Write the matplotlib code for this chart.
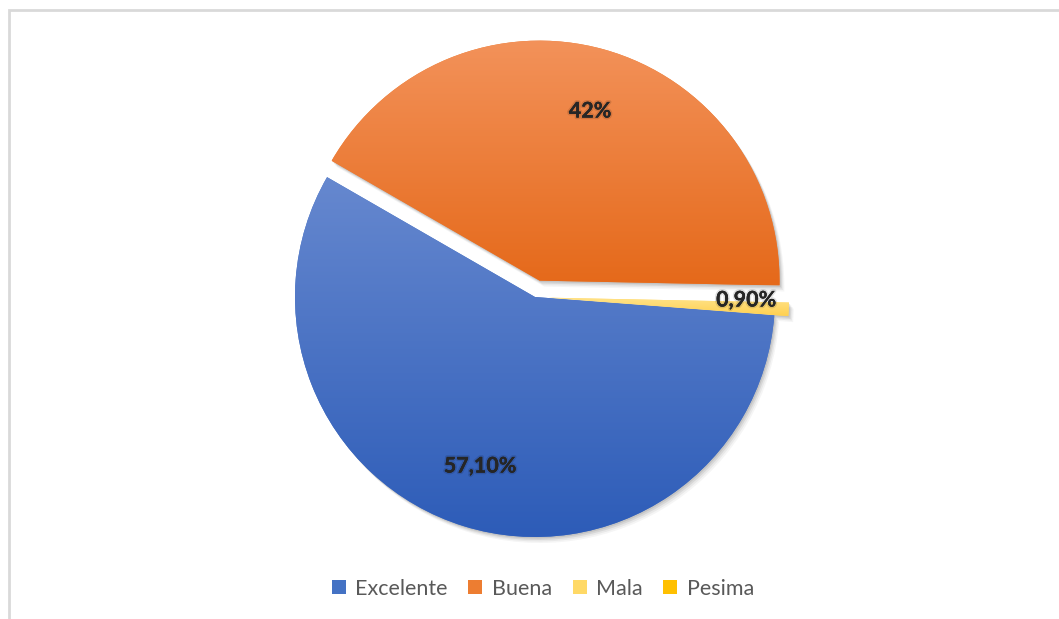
import numpy as np
import matplotlib.pyplot as plt
import matplotlib.patheffects as pe
from matplotlib.colors import LinearSegmentedColormap
from matplotlib.lines import Line2D
from matplotlib.patches import Rectangle, Wedge

categories = ['Excelente', 'Buena', 'Mala', 'Pesima']
values = [57.1, 42.0, 0.9, 0.0]
value_labels = ['57,10%', '42%', '0,90%', '']

# (top, bottom) colours of each slice's vertical gradient
grad_colors = [('#6688cf', '#2d5cb8'),
               ('#f3925a', '#e5691a'),
               ('#ffe38a', '#ffd050'),
               ('#ffd033', '#f5b800')]
legend_colors = ['#4472c4', '#ed7d31', '#ffd966', '#ffc000']

W, H = 1059, 619
fig = plt.figure(figsize=(W / 100, H / 100), dpi=100)
ax = fig.add_axes([0, 0, 1, 1])

cx, cy, R = 535, H - 297, 240
# pie offsets are in data units (pixels here)
explode = [0, 17, 14, 0]

wedges, _ = ax.pie(values, explode=explode, startangle=-4.4, counterclock=False,
                   center=(cx, cy), radius=R, colors=legend_colors,
                   wedgeprops=dict(linewidth=0))

# soft drop shadow under each slice
for w in wedges:
    if w.theta2 - w.theta1 <= 0:
        continue
    for off, a in [(6, 0.05), (4.5, 0.07), (3, 0.10), (1.5, 0.12)]:
        sh = Wedge((w.center[0] + off * 0.8, w.center[1] - off), w.r, w.theta1, w.theta2,
                   facecolor='#404040', alpha=a, linewidth=0, zorder=0.5)
        ax.add_patch(sh)

# vertical gradient fill clipped to each wedge
for w, (c_top, c_bot) in zip(wedges, grad_colors):
    if w.theta2 - w.theta1 <= 0:
        continue
    w.set_zorder(1)
    bb = w.get_path().get_extents(w.get_patch_transform())
    cmap = LinearSegmentedColormap.from_list('g', [c_bot, c_top])
    grad = np.linspace(0, 1, 256).reshape(-1, 1)
    im = ax.imshow(grad, cmap=cmap, origin='lower', aspect='auto',
                   extent=(bb.x0, bb.x1, bb.y0, bb.y1), zorder=2)
    im.set_clip_path(w)

label_pos = [(480, 466), (590, 111), (746, 300)]
for txt, (x, y) in zip(value_labels, label_pos):
    if not txt:
        continue
    ax.text(x, H - y, txt, ha='center', va='center', fontsize=15.5, fontweight='bold',
            family='Lato', color='#262626', zorder=5,
            path_effects=[pe.withStroke(linewidth=2.5, foreground=(0, 0, 0, 0.12)),
                          pe.Normal()])

# light chart-area border
ax.add_patch(Rectangle((8.5, -10), W + 20, H - 9.5 + 10, fill=False,
                       edgecolor='#d9d9d9', linewidth=2, zorder=0))

ax.set_xlim(0, W)
ax.set_ylim(0, H)
ax.set_aspect('auto')
ax.axis('off')

handles = [Line2D([], [], marker='s', linestyle='none', markersize=10,
                  markerfacecolor=c, markeredgewidth=0) for c in legend_colors]
leg = ax.legend(handles, categories, loc='center', bbox_to_anchor=(542 / W, 1 - 589 / H),
                ncol=4, frameon=False, handlelength=0.8, handletextpad=0.35,
                columnspacing=0.9, prop={'family': 'Lato', 'size': 15.5})
for t in leg.get_texts():
    t.set_color('#595959')

fig.savefig('out.png', dpi=100)
